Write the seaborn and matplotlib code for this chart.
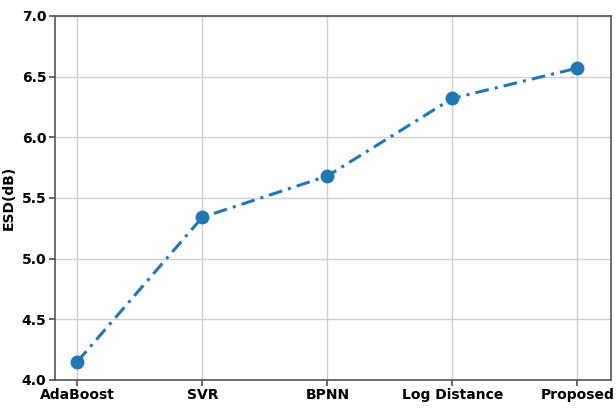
import matplotlib
matplotlib.use("Agg")
import matplotlib.pyplot as plt
import seaborn as sns
import pandas as pd

# data
methods = ["AdaBoost", "SVR", "BPNN", "Log Distance", "Proposed"]
esd = [4.15, 5.34, 5.68, 6.32, 6.57]

df = pd.DataFrame({"method": methods, "esd": esd, "pos": range(len(methods))})

sns.set_theme(style="whitegrid")
plt.rcParams["font.family"] = ["DejaVu Sans"]
plt.rcParams["text.color"] = "black"
plt.rcParams["axes.labelcolor"] = "black"
plt.rcParams["xtick.color"] = "black"
plt.rcParams["ytick.color"] = "black"

fig = plt.figure(figsize=(6.16, 4.08), dpi=100)
ax = fig.add_axes([0.089, 0.069, 0.903, 0.892])

sns.lineplot(data=df, x="pos", y="esd", ax=ax, color="#1f77b4",
             linewidth=2.2, marker="o", markersize=10,
             markeredgewidth=0)
ax.lines[0].set_dashes([4.5, 2, 1, 2])

ax.set_xticks(range(len(methods)))
ax.set_xticklabels(methods, fontweight="bold", fontsize=10)
ax.set_xlim(-0.18, 4.27)
ax.set_ylim(4.0, 7.0)
ax.set_yticks([4.0, 4.5, 5.0, 5.5, 6.0, 6.5, 7.0])
ax.set_yticklabels([f"{v:.1f}" for v in ax.get_yticks()], fontweight="bold", fontsize=10)
ax.set_xlabel("")
ax.set_ylabel("ESD(dB)", fontweight="bold", fontsize=10)

ax.grid(True, color="#d0d0d0", linewidth=1)
for s in ax.spines.values():
    s.set_visible(True)
    s.set_color("#555555")
    s.set_linewidth(1.2)
ax.tick_params(axis="both", which="both", length=4, color="#555555", bottom=True, left=True, pad=2)

fig.savefig("out.png", dpi=100)
